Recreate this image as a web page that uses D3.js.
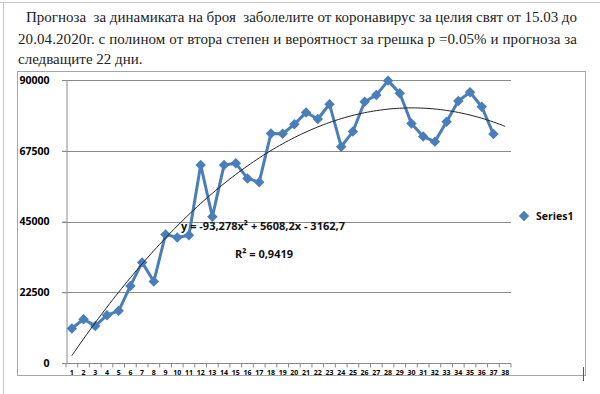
<!DOCTYPE html>
<html>
<head>
<meta charset="utf-8">
<script src="https://cdn.jsdelivr.net/npm/d3@7"></script>
<style>
  body { margin: 0; background: #fff; }
  svg { display: block; }
</style>
</head>
<body>
<div id="chart"></div>
<script>
const titleLines = [
    "Прогноза  за динамиката на броя  заболелите от коронавирус за целия свят от 15.03 до",
    "20.04.2020г. с полином от втора степен и вероятност за грешка p =0.05% и прогноза за",
    "следващите 22 дни."
];

const days = d3.range(1, 39);
const cases = [
    11000, 13900, 11800, 15200, 16600, 24500, 32000, 25900, 40900, 39900,
    40600, 63000, 46500, 63000, 63500, 58700, 57500, 73000, 72900, 75900,
    79700, 77600, 82300, 68800, 73600, 83100, 85200, 89800, 85800, 76200,
    72000, 70400, 76700, 83300, 86100, 81500, 72800
];
const yTicks = [0, 22500, 45000, 67500, 90000];
// trend: a*x^2 + b*x + c
const trendCoef = [-93.278, 5608.2, -3162.7];
const eqText = "y = -93,278x² + 5608,2x - 3162,7";
const r2Text = "R² = 0,9419";
const seriesName = "Series1";

const W = 600, H = 394;
const BLUE = "#4a7ebb";

const svg = d3.select("#chart").append("svg")
    .attr("width", W)
    .attr("height", H);

// page frame
svg.append("path")
    .attr("d", "M0,2.5H600M3.5,2V394")
    .attr("stroke", "#c8c8c8")
    .attr("fill", "none");

// title
const titlePos = [[26, 22, 551], [18, 44, 559], [18, 64, null]];
titleLines.forEach((t, i) => {
    let [tx, ty, len] = titlePos[i];
    let el = svg.append("text")
        .attr("x", tx)
        .attr("y", ty)
        .style("font-family", "'Liberation Serif', 'DejaVu Serif', serif")
        .style("font-size", "15px")
        .style("white-space", "pre")
        .attr("fill", "#222")
        .text(t);
    if (len) el.attr("textLength", len).attr("lengthAdjust", "spacing");
});

// chart box
svg.append("rect")
    .attr("x", 17.5)
    .attr("y", 71.5)
    .attr("width", 568)
    .attr("height", 304)
    .attr("fill", "#fff")
    .attr("stroke", "#a6a6a6");

const x = d3.scaleBand()
    .domain(days)
    .range([66, 511])
    .paddingInner(0)
    .paddingOuter(0);

const y = d3.scaleLinear()
    .domain([0, 90000])
    .range([363, 80]);

// gridlines
svg.append("g")
    .selectAll("line")
    .data(yTicks.filter(d => d > 0))
    .join("line")
    .attr("x1", 62)
    .attr("x2", 511)
    .attr("y1", d => Math.round(y(d)) + 0.5)
    .attr("y2", d => Math.round(y(d)) + 0.5)
    .attr("stroke", "#8a8a8a")
    .attr("stroke-width", 1);

// y axis
let yAxis = svg.append("g")
    .attr("transform", "translate(66.5,0)")
    .call(d3.axisLeft(y).tickValues(yTicks).tickSize(4).tickFormat(d3.format("d")));
yAxis.select(".domain").attr("stroke", "#8a8a8a");
yAxis.selectAll(".tick line").attr("stroke", "#8a8a8a");
yAxis.selectAll("text")
    .attr("x", -17)
    .style("font-family", "'Open Sans', 'DejaVu Sans', sans-serif")
    .style("font-size", "10.5px")
    .style("font-weight", "bold")
    .attr("fill", "#000");

// x axis
let xAxisG = svg.append("g")
    .attr("transform", `translate(0,${Math.round(y(0)) + 0.5})`);
xAxisG.append("line")
    .attr("x1", 62).attr("x2", 511)
    .attr("stroke", "#8a8a8a");
xAxisG.selectAll(".xt")
    .data(days.concat([39]))
    .join("line")
    .attr("class", "xt")
    .attr("x1", d => d <= 38 ? x(d) : x(38) + x.bandwidth())
    .attr("x2", d => d <= 38 ? x(d) : x(38) + x.bandwidth())
    .attr("y1", 0).attr("y2", 4)
    .attr("stroke", "#8a8a8a");
xAxisG.selectAll(".xl")
    .data(days)
    .join("text")
    .attr("class", "xl")
    .attr("x", d => x(d) + x.bandwidth() / 2)
    .attr("y", 11.5)
    .attr("text-anchor", "middle")
    .style("font-family", "'Open Sans', 'DejaVu Sans', sans-serif")
    .style("font-size", "7px")
    .style("font-weight", "bold")
    .attr("fill", "#000")
    .text(d => d);

const cx = i => x(days[i]) + x.bandwidth() / 2;

// series
svg.append("path")
    .datum(cases)
    .attr("fill", "none")
    .attr("stroke", BLUE)
    .attr("stroke-width", 3)
    .attr("stroke-linejoin", "round")
    .attr("d", d3.line().x((d, i) => cx(i)).y(d => y(d)));

const diamond = d3.symbol().type(d3.symbolDiamond2).size(70);
svg.append("g")
    .selectAll("path")
    .data(cases)
    .join("path")
    .attr("transform", (d, i) => `translate(${cx(i)},${y(d)})`)
    .attr("d", diamond)
    .attr("fill", BLUE);

// polynomial trendline
const trendX = d3.range(1, 38.01, 0.25);
const poly = t => trendCoef[0] * t * t + trendCoef[1] * t + trendCoef[2];
const tx = t => x(1) + x.bandwidth() / 2 + (t - 1) * x.step();
svg.append("path")
    .datum(trendX)
    .attr("fill", "none")
    .attr("stroke", "#222")
    .attr("stroke-width", 1)
    .attr("d", d3.line().x(t => tx(t)).y(t => y(poly(t))).curve(d3.curveBasis));

// equation labels
svg.append("text")
    .attr("x", 181)
    .attr("y", 230)
    .style("font-family", "'Open Sans', 'DejaVu Sans', sans-serif")
    .style("font-size", "11px")
    .style("font-weight", "bold")
    .attr("fill", "#111")
    .attr("textLength", 164)
    .text(eqText);
svg.append("text")
    .attr("x", 235)
    .attr("y", 258)
    .style("font-family", "'Open Sans', 'DejaVu Sans', sans-serif")
    .style("font-size", "11px")
    .style("font-weight", "bold")
    .attr("fill", "#111")
    .attr("textLength", 58)
    .text(r2Text);

// legend
svg.append("path")
    .attr("transform", "translate(524,216)")
    .attr("d", diamond)
    .attr("fill", BLUE);
svg.append("text")
    .attr("x", 536)
    .attr("y", 220)
    .style("font-family", "'Open Sans', 'DejaVu Sans', sans-serif")
    .style("font-size", "10.5px")
    .style("font-weight", "bold")
    .attr("fill", "#111")
    .text(seriesName);

// small caret mark bottom right
svg.append("line")
    .attr("x1", 583.5).attr("x2", 583.5)
    .attr("y1", 367).attr("y2", 381)
    .attr("stroke", "#555")
    .attr("stroke-width", 1);
</script>
</body>
</html>
